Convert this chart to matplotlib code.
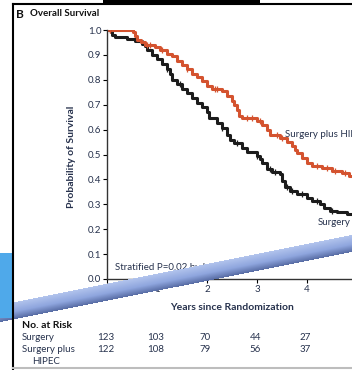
import matplotlib.pyplot as plt
import numpy as np
import matplotlib.transforms as mtransforms
from matplotlib.patches import Rectangle

plt.rcParams['font.family'] = ['Lato', 'DejaVu Sans']

# Kaplan-Meier estimates (years since randomization, probability of survival)
hipec_t = [0.0, 0.52, 0.55, 0.6, 0.68, 0.75, 0.95, 1.05, 1.2, 1.3, 1.4, 1.5, 1.6, 1.7,
           1.8, 1.9, 2.0, 2.1, 2.3, 2.4, 2.5, 2.55, 2.6, 2.65, 2.7, 3.0, 3.1, 3.2, 3.25,
           3.45, 3.6, 3.7, 3.75, 3.8, 3.9, 4.0, 4.1, 4.3, 4.5, 4.7, 4.85, 5.0]
hipec_s = [1.0, 0.99, 0.975, 0.96, 0.95, 0.94, 0.93, 0.92, 0.905, 0.895, 0.875, 0.86,
           0.845, 0.825, 0.81, 0.795, 0.775, 0.765, 0.755, 0.735, 0.715, 0.70, 0.68,
           0.655, 0.645, 0.635, 0.62, 0.60, 0.58, 0.565, 0.55, 0.535, 0.52, 0.505,
           0.485, 0.465, 0.455, 0.445, 0.435, 0.425, 0.415, 0.415]
hipec_cens = [0.05, 0.8, 0.85, 1.1, 1.6, 2.15, 2.2, 2.8, 2.9, 3.05, 3.4, 3.5,
              4.2, 4.4, 4.55, 4.75]

surg_t = [0.0, 0.1, 0.15, 0.4, 0.55, 0.7, 0.75, 0.8, 0.9, 1.0, 1.1, 1.2, 1.25, 1.3,
          1.4, 1.5, 1.6, 1.7, 1.8, 1.9, 2.0, 2.05, 2.2, 2.3, 2.4, 2.45, 2.55, 2.7, 2.8,
          3.0, 3.05, 3.1, 3.2, 3.3, 3.45, 3.5, 3.55, 3.65, 3.8, 4.0, 4.1, 4.25, 4.35,
          4.45, 4.6, 4.8, 5.0]
surg_s = [1.0, 0.98, 0.97, 0.965, 0.955, 0.945, 0.935, 0.92, 0.90, 0.885, 0.865, 0.845,
          0.825, 0.80, 0.785, 0.765, 0.745, 0.725, 0.705, 0.69, 0.67, 0.645, 0.625,
          0.605, 0.58, 0.56, 0.545, 0.525, 0.51, 0.495, 0.48, 0.465, 0.44, 0.43, 0.42,
          0.395, 0.37, 0.355, 0.34, 0.325, 0.315, 0.30, 0.285, 0.275, 0.27, 0.26, 0.26]
surg_cens = [0.05, 1.2, 1.45, 2.3, 2.6, 3.0, 3.25, 3.35, 3.6, 3.7, 3.9, 4.2, 4.5]

x_ticks = [0, 1, 2, 3, 4]
y_ticks = [0.0, 0.1, 0.2, 0.3, 0.4, 0.5, 0.6, 0.7, 0.8, 0.9, 1.0]
risk_surgery = [123, 103, 70, 44, 27]
risk_hipec = [122, 108, 79, 56, 37]

W, H = 352, 370
txt = '#27324d'
red = '#d4532f'


def fx(px):
    return px / W


def fy(py):
    return 1 - py / H


fig = plt.figure(figsize=(W / 100, H / 100), dpi=100)
ax = fig.add_axes([fx(107), fy(279), 1 - fx(107), fy(30) - fy(279)])
ax.set_xlim(0, 4.9)
ax.set_ylim(0, 1.0)

ax.step(surg_t, surg_s, where='post', color='#1c1c1c', lw=2.2)
ax.step(hipec_t, hipec_s, where='post', color=red, lw=2.2)


def at(t, s, c):
    idx = np.searchsorted(t, c, side='right') - 1
    return np.array(s)[idx]


ax.plot(surg_cens, at(surg_t, surg_s, surg_cens), ls='none', marker='|',
        ms=4.5, mew=0.9, color='#1c1c1c')
ax.plot(hipec_cens, at(hipec_t, hipec_s, hipec_cens), ls='none', marker='|',
        ms=4.5, mew=0.9, color=red)

for side in ['top', 'right']:
    ax.spines[side].set_visible(False)
for side in ['left', 'bottom']:
    ax.spines[side].set_color('#333333')
    ax.spines[side].set_linewidth(1.0)

ax.set_xticks(x_ticks)
ax.set_yticks(y_ticks)
ax.set_yticklabels([f'{v:.1f}' for v in y_ticks])
ax.tick_params(direction='out', length=3, width=0.8, labelsize=7,
               labelcolor=txt, pad=1)

ax.text(3.56, 0.582, 'Surgery plus HIPEC', fontsize=7, color=txt, va='center')
ax.text(4.22, 0.225, 'Surgery', fontsize=7, color=txt, va='center')
ax.text(0.16, 0.048, 'Stratified P=0.02 by log-rank test', fontsize=7,
        color=txt, va='center')

fig.text(fx(72), fy(157), 'Probability of Survival', rotation=90, fontsize=7.5,
         fontweight='bold', color=txt, ha='center', va='center')
fig.text(fx(232), fy(307), 'Years since Randomization', fontsize=7.5,
         fontweight='bold', color=txt, ha='center', va='center')
fig.text(fx(16), fy(14), 'B', fontsize=8.5, fontweight='bold', color='#111111', va='center')
fig.text(fx(30), fy(14), 'Overall Survival', fontsize=7, fontweight='bold',
         color='#111111', va='center')

# numbers at risk under the axis
fig.text(fx(22), fy(326), 'No. at Risk', fontsize=7.5, fontweight='bold', color='#111111', va='center')
fig.text(fx(22), fy(338), 'Surgery', fontsize=7, color=txt, va='center')
fig.text(fx(22), fy(350), 'Surgery plus', fontsize=7, color=txt, va='center')
fig.text(fx(32), fy(362), 'HIPEC', fontsize=7, color=txt, va='center')
tr = mtransforms.blended_transform_factory(ax.transData, fig.transFigure)
for x, a, b in zip(x_ticks, risk_surgery, risk_hipec):
    ax.text(x - 0.03, fy(338), str(a), transform=tr, fontsize=7, color=txt,
            ha='center', va='center', clip_on=False)
    ax.text(x - 0.03, fy(350), str(b), transform=tr, fontsize=7, color=txt,
            ha='center', va='center', clip_on=False)

# page frame and the pointer laid across the figure
ov = fig.add_axes([0, 0, 1, 1], zorder=10)
ov.set_xlim(0, W)
ov.set_ylim(H, 0)
ov.axis('off')
ov.add_patch(Rectangle((103, 0), 157, 2.5, color='black', lw=0))
ov.plot([13, 13], [4, H], color='black', lw=1.5)
ov.plot([13, W], [4, 4], color='black', lw=1.5)
ov.plot([13, W], [367.5, 367.5], color='#bdbdbd', lw=1.5)
ov.add_patch(Rectangle((0, 253), 12, 65, color='#4fa9ea', lw=0))

X, Y = np.meshgrid(np.arange(W) + 0.5, np.arange(H) + 0.5)
top = 305 - 70 * X / W
t = (Y - top) / 17
c0 = np.array([0.70, 0.77, 0.93])
c1 = np.array([0.56, 0.65, 0.87])
c2 = np.array([0.34, 0.42, 0.64])
tt = np.clip(t, 0, 1)[..., None]
rgb = np.where(tt < 0.55, c0 + (c1 - c0) * tt / 0.55, c1 + (c2 - c1) * (tt - 0.55) / 0.45)
alpha = ((t >= 0) & (t <= 1)).astype(float)[..., None]
ov.imshow(np.concatenate([rgb, alpha], axis=2), extent=[0, W, H, 0],
          interpolation='bilinear', aspect='auto')
ov.set_xlim(0, W)
ov.set_ylim(H, 0)

fig.savefig('out.png', dpi=100)
